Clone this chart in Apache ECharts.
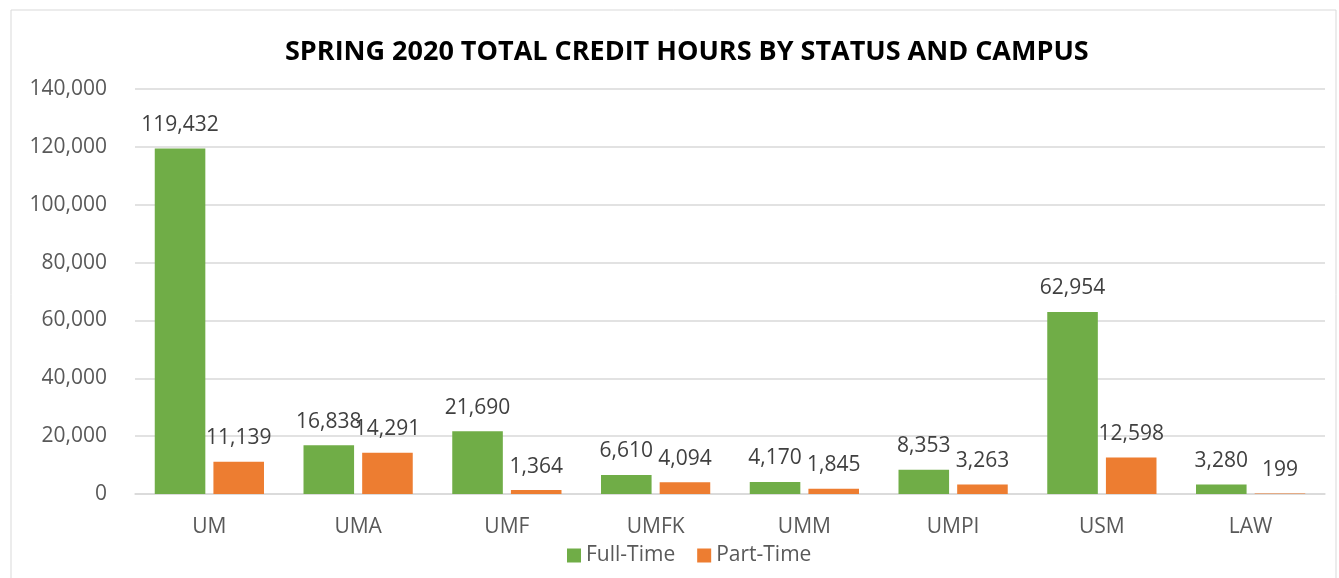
<!DOCTYPE html>
<html>
<head>
<meta charset="utf-8">
<script src="https://cdn.jsdelivr.net/npm/echarts@6/dist/echarts.min.js"></script>
<style>
  html, body { margin: 0; padding: 0; background: #fff; }
  #chart { width: 1339px; height: 578px; }
</style>
</head>
<body>
<div id="chart"></div>
<script>
const campuses = ['UM', 'UMA', 'UMF', 'UMFK', 'UMM', 'UMPI', 'USM', 'LAW']
const fullTime = [119432, 16838, 21690, 6610, 4170, 8353, 62954, 3280]
const partTime = [11139, 14291, 1364, 4094, 1845, 3263, 12598, 199]

const fontFamily = '"Open Sans", "Liberation Sans", sans-serif'

const chart = echarts.init(document.getElementById('chart'))

const labelStyle = {
  show: true,
  position: 'top',
  distance: 13,
  color: '#404040',
  fontSize: 21,
  fontFamily,
  formatter: p => p.value.toLocaleString('en-US')
}

const option = {
  animation: false,
  backgroundColor: '#fff',
  graphic: [
    {
      type: 'rect',
      shape: { x: 11, y: 10, width: 1325, height: 580 },
      style: { fill: 'none', stroke: '#d9d9d9', lineWidth: 1 }
    }
  ],
  title: {
    text: 'SPRING 2020 TOTAL CREDIT HOURS BY STATUS AND CAMPUS',
    left: 280,
    top: 34,
    textStyle: {
      color: '#000',
      fontSize: 27,
      fontWeight: 'bold',
      fontFamily
    }
  },
  legend: {
    bottom: 7,
    left: 562,
    itemWidth: 14,
    itemHeight: 14,
    itemGap: 22,
    icon: 'rect',
    textStyle: { color: '#595959', fontSize: 21, fontFamily },
    data: ['Full-Time', 'Part-Time']
  },
  grid: {
    left: 135,
    right: 14,
    top: 89,
    bottom: 84,
    containLabel: false
  },
  xAxis: {
    type: 'category',
    data: campuses,
    axisLine: { lineStyle: { color: '#d9d9d9', width: 1.5 } },
    axisTick: { show: false },
    axisLabel: { color: '#595959', fontSize: 21, fontFamily, margin: 23 }
  },
  yAxis: {
    type: 'value',
    min: 0,
    max: 140000,
    interval: 20000,
    axisLine: { show: false },
    axisTick: { show: false },
    splitLine: { lineStyle: { color: '#d9d9d9', width: 1.5 } },
    axisLabel: {
      color: '#595959',
      fontSize: 21,
      fontFamily,
      margin: 28,
      formatter: v => v.toLocaleString('en-US')
    }
  },
  series: [
    {
      name: 'Full-Time',
      type: 'bar',
      data: fullTime,
      barWidth: '34%',
      barGap: '16%',
      itemStyle: { color: '#70ad47' },
      label: labelStyle
    },
    {
      name: 'Part-Time',
      type: 'bar',
      data: partTime,
      barWidth: '34%',
      itemStyle: { color: '#ed7d31' },
      label: labelStyle
    }
  ]
}

chart.setOption(option)
</script>
</body>
</html>
